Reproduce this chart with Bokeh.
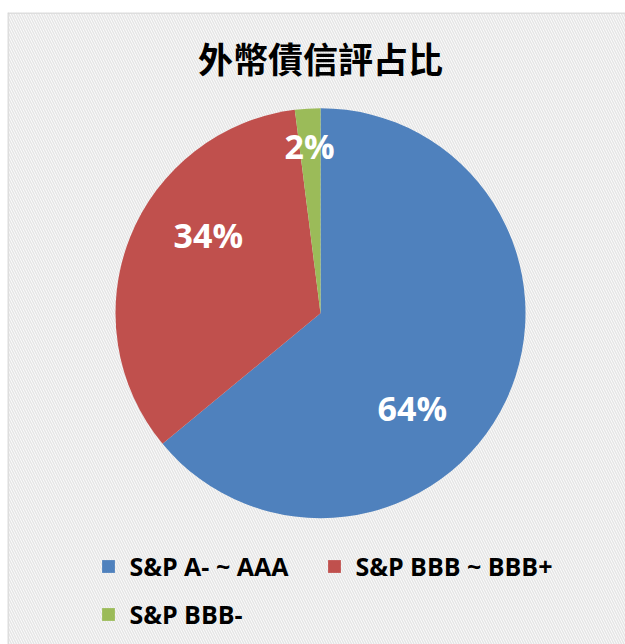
import math
from bokeh.plotting import figure
from bokeh.models import Range1d, BoxAnnotation, Span, Legend, LegendItem, ColumnDataSource
from bokeh.core.properties import value
from bokeh.embed import file_html
from bokeh.resources import INLINE

# ---- data ----
title_text = "外幣債信評占比"
categories = ["S&P A- ~ AAA", "S&P BBB ~ BBB+", "S&P BBB-"]
shares = [64, 34, 2]
colors = ["#4F81BD", "#C0504D", "#9BBB59"]

# ---- label layout (best-fit placement, polar: degrees, px) ----
label_angle_deg = [-45.9, 145.0, 93.7]
label_radius = [132, 137, 168]

R = 205
total = sum(shares)
starts, ends = [], []
cum = 0.0
for s in shares:
    a_end = math.pi / 2 - cum / total * 2 * math.pi
    cum += s
    a_start = math.pi / 2 - cum / total * 2 * math.pi
    starts.append(a_start)
    ends.append(a_end)

p = figure(width=625, height=644, output_backend="svg", toolbar_location=None,
           x_range=Range1d(-313, 305), y_range=Range1d(-331.3, 300.7),
           min_border_left=7, min_border_right=0, min_border_top=12, min_border_bottom=0)
p.axis.visible = False
p.grid.visible = False
p.outline_line_color = None
p.background_fill_color = "white"
p.border_fill_color = "white"

bg = BoxAnnotation(fill_color="white", fill_alpha=1, hatch_pattern="\\", hatch_color="#e6e6e6",
                   hatch_scale=5, hatch_weight=1.6, hatch_alpha=1.0, line_alpha=0, level="underlay")
p.add_layout(bg)
p.add_layout(Span(location=-312.5, dimension="height", line_color="#d9d9d9", line_width=1.5))
p.add_layout(Span(location=300.2, dimension="width", line_color="#d9d9d9", line_width=1.5))

items = []
for i, cat in enumerate(categories):
    r = p.wedge(x=0, y=0, radius=R, start_angle=starts[i], end_angle=ends[i],
                direction="anticlock", fill_color=colors[i], line_color=None)
    items.append(LegendItem(label=cat, renderers=[r]))

lx = [lr * math.cos(math.radians(a)) for lr, a in zip(label_radius, label_angle_deg)]
ly = [lr * math.sin(math.radians(a)) for lr, a in zip(label_radius, label_angle_deg)]
lbl = ColumnDataSource(dict(x=lx, y=ly, t=[f"{s}%" for s in shares]))
p.text(x="x", y="y", text="t", source=lbl, text_color="white", text_font=value("Open Sans"),
       text_font_style="bold", text_font_size="34px", text_align="center", text_baseline="middle")

p.text(x=[0], y=[256], text=[title_text], text_font=value("Noto Sans CJK TC"), text_font_style="bold",
       text_font_size="35px", text_align="center", text_baseline="middle", text_color="black")

legend = Legend(items=items, orientation="horizontal", ncols=2, location=(93.4, 13), padding=0, margin=0,
                glyph_width=16, glyph_height=16, label_standoff=13, label_width=183,
                spacing=14, label_text_font="Open Sans", label_text_font_style="bold",
                label_text_font_size="25px", label_text_color="black",
                border_line_alpha=0, background_fill_alpha=0)
p.add_layout(legend, "center")

open("out.html", "w").write(file_html(p, INLINE))
